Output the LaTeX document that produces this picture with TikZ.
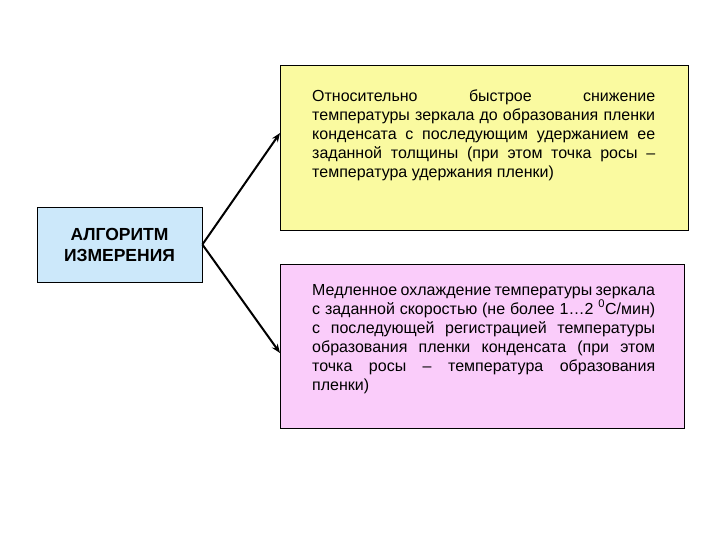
\documentclass[tikz,border=0pt]{standalone}
\usepackage{fontspec}
\usetikzlibrary{arrows.meta}
\setmainfont{Liberation Sans}
\begin{document}
\begin{tikzpicture}[x=1pt,y=-1pt,
  box/.style={draw=black,line width=0.8pt},
  txt/.style={text width=343pt,align=justify,font=\fontsize{16}{19}\selectfont,inner sep=0pt},
  arr/.style={line width=2pt,-{Stealth[length=9pt,width=7pt]}}]
\useasboundingbox (0,0) rectangle (720,540);
\definecolor{lblue}{RGB}{204,232,250}
\definecolor{lyel}{RGB}{250,250,160}
\definecolor{lpink}{RGB}{250,204,250}
\node[box,fill=lblue,minimum width=165pt,minimum height=75pt,inner sep=0pt,align=center,font=\bfseries\fontsize{17.5}{21}\selectfont] (alg) at (119.5,244.5) {АЛГОРИТМ\\ИЗМЕРЕНИЯ};
\node[box,fill=lyel,minimum width=408pt,minimum height=165pt] (top) at (484,147.5) {};
\node[txt,anchor=north west] (tt) at (312,90) {Относительно быстрое снижение температуры зеркала до образования пленки конденсата с последующим удержанием ее заданной толщины (при этом точка росы – температура удержания пленки)};
\node[box,fill=lpink,minimum width=404pt,minimum height=164pt] (bot) at (482,346) {};
\node[txt,anchor=north west] (bt) at (312,284) {Медленное охлаждение температуры зеркала с заданной скоростью (не более 1…2 \textsuperscript{0}С/мин) с последующей регистрацией температуры образования пленки конденсата (при этом точка росы – температура образования пленки)};
\coordinate (t1) at (280,133);
\coordinate (t2) at (280,353);
\draw[arr] (alg.east) -- (t1);
\draw[arr] (alg.east) -- (t2);
\end{tikzpicture}
\end{document}
